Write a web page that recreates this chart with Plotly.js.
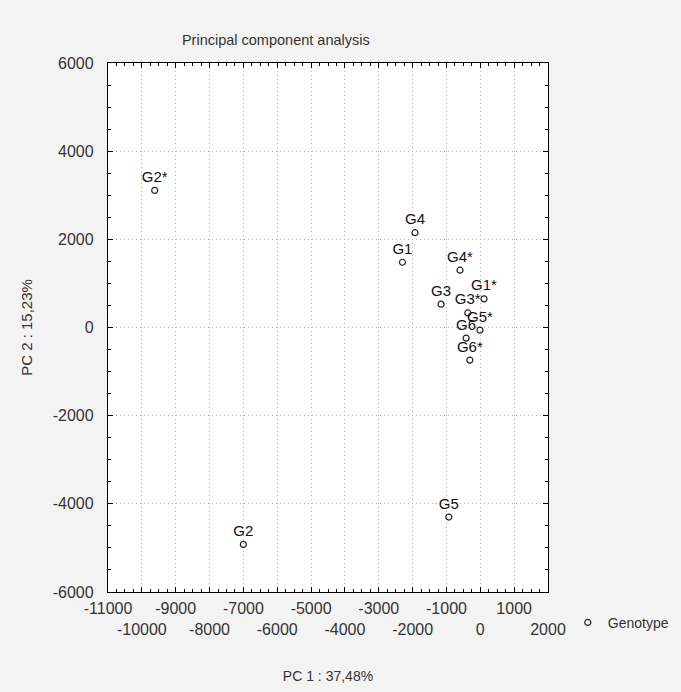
<!DOCTYPE html>
<html>
<head>
<meta charset="utf-8">
<script src="https://cdn.plot.ly/plotly-3.0.1.min.js"></script>
<style>html,body{margin:0;padding:0;background:#f3f3f3;}#chart{width:681px;height:692px;}</style>
</head>
<body>
<div id="chart"></div>
<script>
// Data
const genotypes = ["G1", "G2", "G3", "G4", "G5", "G6", "G1*", "G2*", "G3*", "G4*", "G5*", "G6*"];
const pc1 = [-2300, -7000, -1160, -1930, -930, -420, 110, -9620, -370, -600, -10, -310];
const pc2 = [1480, -4920, 530, 2150, -4300, -240, 650, 3110, 330, 1300, -60, -740];

// Axis ticks
const xTickVals = [-11000, -10000, -9000, -8000, -7000, -6000, -5000, -4000, -3000, -2000, -1000, 0, 1000, 2000];
const xTickLabels = ["-11000", "-10000", "-9000", "-8000", "-7000", "-6000", "-5000", "-4000", "-3000", "-2000", "-1000", "0", "1000", "2000"];
const yTickVals = [-6000, -4000, -2000, 0, 2000, 4000, 6000];
const yTickLabels = ["-6000", "-4000", "-2000", "0", "2000", "4000", "6000"];

// staggered x labels: every second label goes to a second row
const xTickText = xTickLabels.map((t, i) => (i % 2 === 1 ? "\u00a0<br>" + t : t));

const FONT = "Liberation Sans, Arial, sans-serif";

const trace = {
  type: "scatter",
  mode: "markers+text",
  name: "Genotype",
  x: pc1,
  y: pc2,
  text: genotypes,
  textposition: "top center",
  textfont: {family: FONT, size: 15, color: "#111"},
  marker: {symbol: "circle-open", size: 6, color: "#222", line: {width: 1.2, color: "#222"}},
  cliponaxis: false,
  hoverinfo: "x+y+text"
};

const axisCommon = {
  showline: true,
  linecolor: "#000",
  linewidth: 1.2,
  mirror: "allticks",
  ticks: "inside",
  ticklen: 5,
  tickcolor: "#000",
  tickangle: 0,
  tickfont: {family: FONT, size: 16, color: "#333"},
  showgrid: true,
  gridcolor: "#b0b0b0",
  griddash: "1px,3px",
  gridwidth: 1,
  zeroline: false,
  tickmode: "array"
};

const layout = {
  width: 681,
  height: 692,
  paper_bgcolor: "#f3f3f3",
  plot_bgcolor: "#ffffff",
  margin: {l: 108, r: 133, t: 63, b: 100, autoexpand: false},
  title: {
    text: "Principal component analysis",
    font: {family: FONT, size: 14.5, color: "#333"},
    x: 0.168, xref: "paper", xanchor: "left",
    y: 1 - 40 / 692, yref: "container", yanchor: "middle"
  },
  xaxis: Object.assign({}, axisCommon, {
    range: [-11000, 2000],
    tickvals: xTickVals,
    ticktext: xTickText,
    ticklabelstandoff: 2,
    minor: {ticks: "inside", ticklen: 3, tickcolor: "#000", dtick: 250, showgrid: false},
    title: {text: "PC 1 : 37,48%", font: {family: FONT, size: 14, color: "#333"}, standoff: 34}
  }),
  yaxis: Object.assign({}, axisCommon, {
    range: [-6000, 6000],
    tickvals: yTickVals,
    ticktext: yTickLabels,
    ticklabelstandoff: 10,
    minor: {ticks: "inside", ticklen: 3, tickcolor: "#000", dtick: 500, showgrid: false},
    title: {text: "PC 2 : 15,23%", font: {family: FONT, size: 15, color: "#333"}, standoff: 16}
  }),
  showlegend: true,
  legend: {
    x: 1.045, xanchor: "left",
    y: -0.028, yanchor: "top",
    bgcolor: "rgba(0,0,0,0)",
    itemwidth: 30,
    font: {family: FONT, size: 14, color: "#333"}
  }
};

Plotly.newPlot("chart", [trace], layout, {displayModeBar: false, staticPlot: true});
</script>
</body>
</html>
